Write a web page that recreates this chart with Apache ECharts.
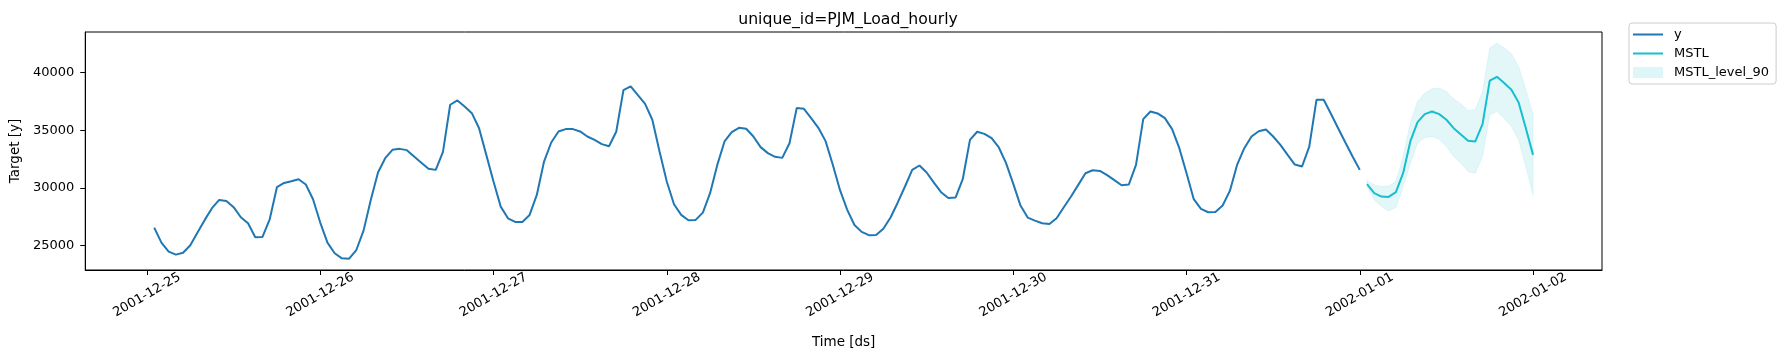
<!DOCTYPE html>
<html lang="en">
  <head>
    <meta charset="UTF-8" />
    <title>PJM_Load_hourly</title>
    <script src="https://cdn.jsdelivr.net/npm/echarts@6/dist/echarts.min.js"></script>
    <style>
      body { margin: 0; background: #fff; }
    </style>
  </head>
  <body>
    <div id="main" style="width: 1790px; height: 361px"></div>
    <script type="text/javascript">
      // hours counted from 2001-12-25 00:00
      const tickLabels = ["2001-12-25", "2001-12-26", "2001-12-27", "2001-12-28", "2001-12-29",
        "2001-12-30", "2001-12-31", "2002-01-01", "2002-01-02"];
      const tickHours = [0, 24, 48, 72, 96, 120, 144, 168, 192];
      const yTicks = [25000, 30000, 35000, 40000];

      // actuals, 2001-12-25 01:00 .. 2002-01-01 00:00
      const yValues = [
        26560, 25260, 24480, 24220, 24390, 25030, 26130, 27230, 28240, 28960, 28870, 28330,
        27460, 26940, 25720, 25750, 27280, 30060, 30430, 30580, 30750, 30290, 29020, 27000,
        25260, 24340, 23900, 23870, 24620, 26300, 28960, 31330, 32570, 33300, 33380, 33270,
        32720, 32170, 31650, 31560, 33120, 37200, 37570, 37050, 36470, 35170, 32860, 30550,
        28380, 27370, 27050, 27050, 27660, 29390, 32280, 33930, 34890, 35090, 35090, 34890,
        34450, 34160, 33790, 33610, 34860, 38470, 38790, 38040, 37280, 35900, 33150, 30550,
        28580, 27660, 27200, 27230, 27860, 29540, 31990, 34020, 34830, 35200, 35120, 34450,
        33530, 33010, 32690, 32600, 33870, 36910, 36850, 36040, 35200, 34050, 32000, 29800,
        28100, 26790, 26190, 25910, 25925, 26460, 27440, 28740, 30120, 31560, 31940, 31330,
        30460, 29630, 29130, 29160, 30750, 34160, 34860, 34680, 34310, 33500, 32140, 30350,
        28470, 27430, 27170, 26940, 26880, 27370, 28320, 29250, 30260, 31270, 31530, 31470,
        31100, 30670, 30230, 30290, 31990, 35950, 36620, 36450, 36040, 35090, 33440, 31270,
        29020, 28180, 27890, 27920, 28470, 29740, 31990, 33440, 34450, 34910, 35060, 34450,
        33730, 32860, 32020, 31850, 33580, 37630, 37630, 36420, 35170, 33930, 32720, 31560
      ];

      // forecast, 2002-01-01 01:00 .. 2002-01-02 00:00
      const mstlValues = [
        30320, 29540, 29250, 29220, 29630, 31270, 34020, 35690, 36390, 36620, 36390, 35900,
        35170, 34630, 34080, 34020, 35520, 39280, 39620, 39080, 38500, 37400, 35170, 32860
      ];
      const lo90 = [
        30120, 28960, 28380, 28010, 28300, 30100, 32140, 33870, 34360, 34450, 34220, 33580,
        32720, 32140, 31420, 31270, 32720, 36330, 36620, 36040, 35320, 34160, 31850, 29390
      ];
      const hi90 = [
        30640, 30260, 30120, 30170, 30550, 32700, 35610, 37490, 38210, 38580, 38640, 38350,
        37690, 37280, 36710, 36760, 38350, 42110, 42540, 42110, 41620, 40520, 38500, 36330
      ];

      const yStart = 1;
      const fcStart = yStart + yValues.length;

      const yData = yValues.map((v, i) => [yStart + i, v]);
      const mstlData = mstlValues.map((v, i) => [fcStart + i, v]);
      const bandData = lo90.map((v, i) => [fcStart + i, v, hi90[i]]);

      const bandFill = "rgba(23,190,207,0.12)";
      const font = "DejaVu Sans";
      const lineIcon = "path://M0,0H30V2H0Z";

      // whole band polygon is drawn once, from the first item
      function renderBand(params, api) {
        if (params.dataIndex !== 0) return;
        const upper = bandData.map((d) => api.coord([d[0], d[2]]));
        const lower = bandData.map((d) => api.coord([d[0], d[1]])).reverse();
        return {
          type: "polygon",
          shape: { points: upper.concat(lower) },
          style: { fill: bandFill, stroke: "rgba(23,190,207,0.10)", lineWidth: 1 }
        };
      }

      let myChart = echarts.init(document.getElementById("main"));

      let options = {
        animation: false,
        textStyle: { fontFamily: font, color: "#000" },
        title: {
          text: "unique_id=PJM_Load_hourly",
          left: 843,
          top: 7,
          textAlign: "center",
          textStyle: { fontFamily: font, fontSize: 15.7, fontWeight: "normal", color: "#000" }
        },
        legend: {
          orient: "vertical",
          left: 1629,
          top: 23,
          padding: [5, 7, 5, 4],
          itemWidth: 30,
          itemHeight: 11,
          itemGap: 6,
          symbolKeepAspect: true,
          borderColor: "#cccccc",
          borderWidth: 1,
          borderRadius: 3,
          backgroundColor: "rgba(255,255,255,0.8)",
          textStyle: { fontFamily: font, fontSize: 13, color: "#000", padding: [0, 0, 0, 6] },
          data: [
            { name: "y", icon: lineIcon, itemStyle: { color: "#1f77b4" } },
            { name: "MSTL", icon: lineIcon, itemStyle: { color: "#17becf" } },
            { name: "MSTL_level_90", icon: "rect", itemStyle: { color: "rgba(23,190,207,0.14)" } }
          ]
        },
        grid: {
          left: 83,
          right: 188,
          top: 32,
          bottom: 91,
          show: true,
          borderColor: "#000",
          borderWidth: 1,
          containLabel: false
        },
        xAxis: {
          type: "value",
          min: -8.55,
          max: 201.55,
          name: "Time [ds]",
          nameLocation: "middle",
          nameGap: 65,
          nameTextStyle: { fontFamily: font, fontSize: 13.5, color: "#000" },
          axisLine: { show: true, onZero: false, lineStyle: { color: "#000", width: 1 } },
          splitLine: { show: false },
          axisTick: {
            show: true,
            length: 5,
            customValues: tickHours,
            lineStyle: { color: "#000" }
          },
          axisLabel: {
            customValues: tickHours,
            rotate: 30,
            align: "center",
            verticalAlign: "middle",
            margin: 25,
            fontFamily: font,
            fontSize: 13,
            color: "#000",
            formatter: (v) => tickLabels[Math.round(v / 24)]
          }
        },
        yAxis: {
          type: "value",
          min: 22890,
          max: 43500,
          name: "Target [y]",
          nameLocation: "middle",
          nameGap: 59,
          nameTextStyle: { fontFamily: font, fontSize: 13.5, color: "#000" },
          axisLine: { show: true, onZero: false, lineStyle: { color: "#000", width: 1 } },
          splitLine: { show: false },
          axisTick: {
            show: true,
            length: 5,
            customValues: yTicks,
            lineStyle: { color: "#000" }
          },
          axisLabel: {
            customValues: yTicks,
            margin: 11,
            fontFamily: font,
            fontSize: 13,
            color: "#000",
            formatter: (v) => String(v)
          }
        },
        series: [
          {
            name: "MSTL_level_90",
            type: "custom",
            data: bandData,
            renderItem: renderBand,
            itemStyle: { color: bandFill },
            silent: true,
            z: 1
          },
          {
            name: "y",
            type: "line",
            data: yData,
            symbol: "none",
            itemStyle: { color: "#1f77b4" },
            lineStyle: { width: 2, color: "#1f77b4" },
            z: 3
          },
          {
            name: "MSTL",
            type: "line",
            data: mstlData,
            symbol: "none",
            itemStyle: { color: "#17becf" },
            lineStyle: { width: 2, color: "#17becf" },
            z: 3
          }
        ]
      };

      myChart.setOption(options);
    </script>
  </body>
</html>
